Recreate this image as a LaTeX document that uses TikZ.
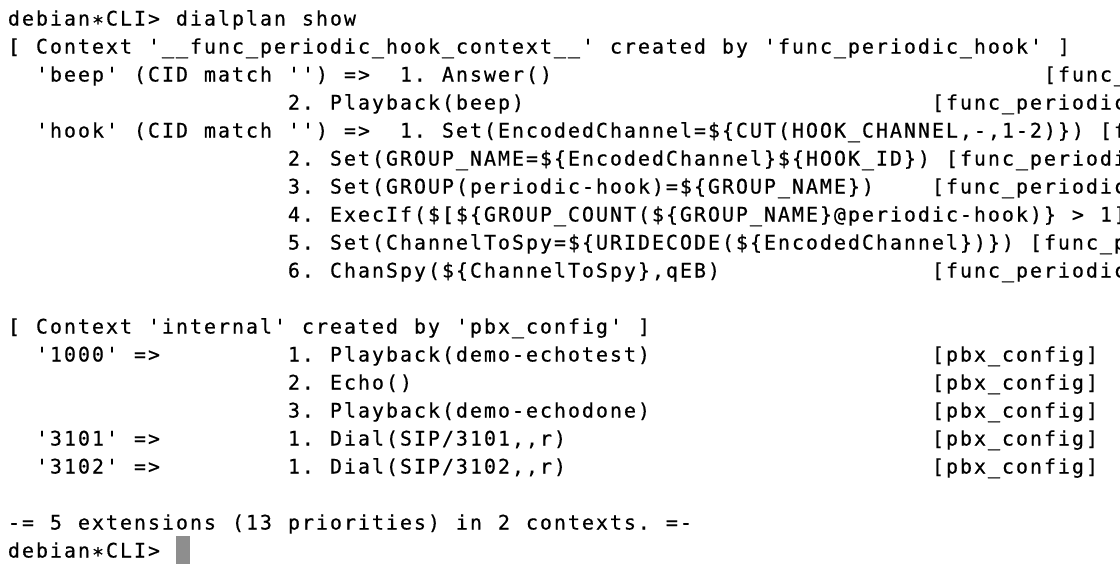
\documentclass[tikz,border=0pt]{standalone}
\usepackage{fontspec}
\setmonofont[FakeBold=0.5]{DejaVu Sans Mono}
\definecolor{curgray}{RGB}{142,142,142}
\ExplSyntaxOn
\NewDocumentCommand \cells { m }
  {
    \str_map_inline:nn { #1 }
      {
        \hbox_to_wd:nn { 14pt }
          {
            \hss
            \str_if_eq:nnTF { ##1 } { * } { \raisebox{-4.5pt}{*} } { ##1 }
            \hss
          }
      }
  }
\ExplSyntaxOff
\newcommand\myterm{\ttfamily\fontsize{20pt}{28pt}\selectfont}
\tikzset{
  ln/.style={anchor=base west, inner sep=0pt, outer sep=0pt, font=\myterm, text=black},
  cursorbox/.style={fill=curgray, minimum width=14pt, minimum height=28pt, inner sep=0pt, anchor=north west}
}
\begin{document}
\begin{tikzpicture}[x=1pt,y=-1pt]
\useasboundingbox (0,0) rectangle (1120,582);
\fill[white] (0,0) rectangle (1120,582);
\clip (0,0) rectangle (1120,582);
% row 1
\node[ln] (r1) at (7,25.5) {\cells{debian*CLI> dialplan show}};
% row 2
\node[ln] (r2) at (7,53.5) {\cells{[ Context '__func_periodic_hook_context__' created by 'func_periodic_hook' ]}};
% row 3
\node[ln] (r3a) at (35,81.5) {\cells{'beep' (CID match '') =>}};
\node[ln] (r3b) at (399,81.5) {\cells{1. Answer()}};
\node[ln] (r3c) at (1043,81.5) {\cells{[func_}};
% row 4
\node[ln] (r4b) at (287,109.5) {\cells{2. Playback(beep)}};
\node[ln] (r4c) at (931,109.5) {\cells{[func_periodic}};
% row 5
\node[ln] (r5a) at (35,137.5) {\cells{'hook' (CID match '') =>}};
\node[ln] (r5b) at (399,137.5) {\cells{1. Set(EncodedChannel=${CUT(HOOK_CHANNEL,-,1-2)}) [f}};
% row 6
\node[ln] (r6b) at (287,165.5) {\cells{2. Set(GROUP_NAME=${EncodedChannel}${HOOK_ID}) [func_periodi}};
% row 7
\node[ln] (r7b) at (287,193.5) {\cells{3. Set(GROUP(periodic-hook)=${GROUP_NAME})}};
\node[ln] (r7c) at (931,193.5) {\cells{[func_periodic}};
% row 8
\node[ln] (r8b) at (287,221.5) {\cells{4. ExecIf($[${GROUP_COUNT(${GROUP_NAME}@periodic-hook)} > 1]}};
% row 9
\node[ln] (r9b) at (287,249.5) {\cells{5. Set(ChannelToSpy=${URIDECODE(${EncodedChannel})}) [func_p}};
% row 10
\node[ln] (r10b) at (287,277.5) {\cells{6. ChanSpy(${ChannelToSpy},qEB)}};
\node[ln] (r10c) at (931,277.5) {\cells{[func_periodic}};
% row 12
\node[ln] (r12) at (7,333.5) {\cells{[ Context 'internal' created by 'pbx_config' ]}};
% row 13
\node[ln] (r13a) at (35,361.5) {\cells{'1000' =>}};
\node[ln] (r13b) at (287,361.5) {\cells{1. Playback(demo-echotest)}};
\node[ln] (r13c) at (931,361.5) {\cells{[pbx_config]}};
% row 14
\node[ln] (r14b) at (287,389.5) {\cells{2. Echo()}};
\node[ln] (r14c) at (931,389.5) {\cells{[pbx_config]}};
% row 15
\node[ln] (r15b) at (287,417.5) {\cells{3. Playback(demo-echodone)}};
\node[ln] (r15c) at (931,417.5) {\cells{[pbx_config]}};
% row 16
\node[ln] (r16a) at (35,445.5) {\cells{'3101' =>}};
\node[ln] (r16b) at (287,445.5) {\cells{1. Dial(SIP/3101,,r)}};
\node[ln] (r16c) at (931,445.5) {\cells{[pbx_config]}};
% row 17
\node[ln] (r17a) at (35,473.5) {\cells{'3102' =>}};
\node[ln] (r17b) at (287,473.5) {\cells{1. Dial(SIP/3102,,r)}};
\node[ln] (r17c) at (931,473.5) {\cells{[pbx_config]}};
% row 19
\node[ln] (r19) at (7,529.5) {\cells{-= 5 extensions (13 priorities) in 2 contexts. =-}};
% row 20
\node[ln] (r20) at (7,557.5) {\cells{debian*CLI>}};
\node[cursorbox] (cursor) at (176,536) {};
\end{tikzpicture}
\end{document}
